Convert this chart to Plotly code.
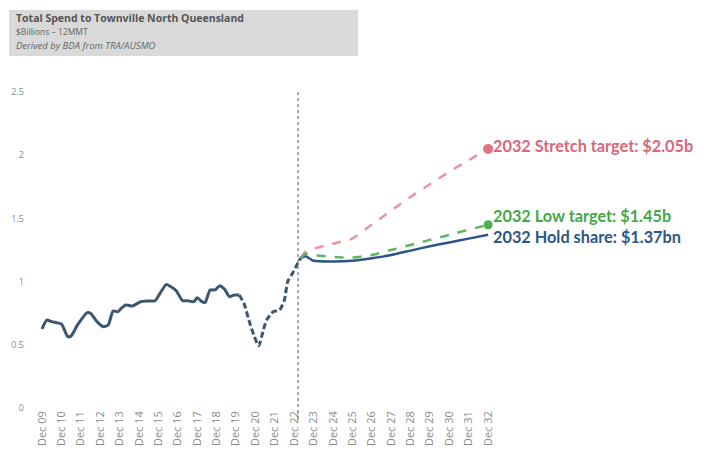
import plotly.graph_objects as go

# Historic 12MMT spend ($b), solid part
hist_dates = ["2009-12-01", "2010-03-01", "2010-06-01", "2010-09-01", "2010-12-01", "2011-04-01",
              "2011-06-01", "2011-10-01", "2012-04-01", "2012-06-01", "2012-10-01", "2013-02-01",
              "2013-05-01", "2013-08-01", "2013-11-01", "2014-01-01", "2014-04-01", "2014-08-01",
              "2015-01-01", "2015-05-01", "2015-10-01", "2016-01-01", "2016-05-01", "2016-07-01",
              "2016-11-01", "2017-03-01", "2017-06-01", "2017-10-01", "2017-12-01", "2018-03-01",
              "2018-05-01", "2018-08-01", "2018-11-01", "2019-02-01", "2019-05-01", "2019-08-01",
              "2019-11-01", "2020-02-01"]
hist_values = [0.625, 0.696, 0.683, 0.675, 0.665, 0.564, 0.570, 0.657, 0.754, 0.749, 0.683, 0.643,
               0.657, 0.767, 0.762, 0.789, 0.815, 0.807, 0.841, 0.847, 0.849, 0.907, 0.978, 0.965,
               0.928, 0.849, 0.849, 0.841, 0.873, 0.841, 0.836, 0.934, 0.934, 0.968, 0.939, 0.881,
               0.894, 0.894]

# COVID period, dashed
covid_dates = ["2020-02-01", "2020-05-01", "2020-08-01", "2020-11-01", "2021-02-01", "2021-05-01",
               "2021-07-01", "2021-11-01", "2022-03-01", "2022-06-01", "2022-08-01", "2022-11-01",
               "2023-02-01", "2023-04-01"]
covid_values = [0.894, 0.828, 0.696, 0.578, 0.493, 0.617, 0.696, 0.762, 0.775, 0.854, 0.999, 1.066,
                1.14, 1.185]

# Projections
proj_dates = ["2023-04-01", "2023-07-01", "2023-12-01", "2024-12-01", "2025-12-01", "2026-12-01",
              "2027-12-01", "2028-12-01", "2029-12-01", "2030-12-01", "2031-12-01", "2032-12-01"]
stretch_values = [1.185, 1.235, 1.26, 1.30, 1.34, 1.45, 1.56, 1.67, 1.77, 1.87, 1.96, 2.05]
low_values = [1.185, 1.22, 1.21, 1.195, 1.19, 1.21, 1.25, 1.29, 1.33, 1.37, 1.41, 1.45]
hold_values = [1.185, 1.20, 1.165, 1.16, 1.165, 1.185, 1.21, 1.245, 1.28, 1.31, 1.34, 1.37]

tick_dates = [f"{y}-12-01" for y in range(2009, 2033)]
tick_labels = [f"Dec {y % 100:02d}" for y in range(2009, 2033)]
y_ticks = [0, 0.5, 1, 1.5, 2, 2.5]
y_labels = ["0", "0.5", "1", "1.5", "2", "2.5"]

divider_date = "2023-02-13"

C_HIST = "#3d5670"
C_RED_LINE = "#e8949f"
C_RED = "#d9667a"
C_GREEN_LINE = "#5cb85c"
C_GREEN = "#43a847"
C_BLUE = "#2c5686"

# page offset (browser body margin) compensation
OFF = 8
ML, MT = 35 - OFF, 92 - OFF
PLOT_W, PLOT_H = 460, 316
MR = 704 - ML - PLOT_W
MB = 451 - MT - PLOT_H

fig = go.Figure()

fig.add_trace(go.Scatter(x=proj_dates, y=stretch_values, mode="lines",
                         line=dict(color=C_RED_LINE, width=2.5, dash="dash", shape="spline", smoothing=0.5),
                         showlegend=False, hoverinfo="skip"))
fig.add_trace(go.Scatter(x=proj_dates, y=hold_values, mode="lines",
                         line=dict(color=C_BLUE, width=2.5, shape="spline", smoothing=0.5),
                         showlegend=False, hoverinfo="skip"))
fig.add_trace(go.Scatter(x=proj_dates, y=low_values, mode="lines",
                         line=dict(color=C_GREEN_LINE, width=2.5, dash="dash", shape="spline", smoothing=0.5),
                         showlegend=False, hoverinfo="skip"))
fig.add_trace(go.Scatter(x=hist_dates, y=hist_values, mode="lines",
                         line=dict(color=C_HIST, width=3, shape="spline", smoothing=0.6),
                         showlegend=False, hoverinfo="skip"))
fig.add_trace(go.Scatter(x=covid_dates, y=covid_values, mode="lines",
                         line=dict(color=C_HIST, width=3, dash="6px,3px", shape="spline", smoothing=0.6),
                         showlegend=False, hoverinfo="skip"))
fig.add_trace(go.Scatter(x=[proj_dates[-1]], y=[stretch_values[-1]], mode="markers",
                         marker=dict(color="#e07386", size=10), showlegend=False, hoverinfo="skip"))
fig.add_trace(go.Scatter(x=[proj_dates[-1]], y=[low_values[-1]], mode="markers",
                         marker=dict(color="#4caf50", size=9), showlegend=False, hoverinfo="skip"))

labels = [
    (stretch_values[-1], "2032 Stretch target: $2.05b", C_RED, 3),
    (low_values[-1], "2032 Low target: $1.45b", C_GREEN, 9),
    (hold_values[-1], "2032 Hold share: $1.37bn", C_BLUE, -2),
]
for yv, txt, col, ys in labels:
    fig.add_annotation(x=proj_dates[-1], y=yv, text=txt, showarrow=False, xanchor="left",
                       yanchor="middle", xshift=3, yshift=ys,
                       font=dict(family="Lato", size=16.3, color=col, weight="bold"))

fig.add_shape(type="line", xref="x", yref="paper", x0=divider_date, x1=divider_date, y0=-0.035, y1=1,
              line=dict(color="#555555", width=1, dash="dot"))

fig.update_layout(
    width=704, height=451,
    margin=dict(l=ML, r=MR, t=MT, b=MB, autoexpand=False),
    paper_bgcolor="white", plot_bgcolor="white",
    xaxis=dict(type="date", range=["2009-07-22", "2033-04-10"], tickmode="array",
               tickvals=tick_dates, ticktext=tick_labels, tickangle=-90, showgrid=False,
               zeroline=False, showline=False, ticks="", automargin=False,
               tickfont=dict(family="Open Sans", size=11, color="#8a8a8a")),
    yaxis=dict(range=[0, 2.5], tickmode="array", tickvals=y_ticks, ticktext=y_labels,
               showgrid=False, zeroline=False, showline=False, ticks="", automargin=False,
               ticklabelstandoff=10,
               tickfont=dict(family="Open Sans", size=9, color="#8a8a8a")),
)

# Header panel (screen-pixel based via paper coords)
def px(x):
    return (x - OFF - ML) / PLOT_W
def py(y):
    return (MT + PLOT_H - (y - OFF)) / PLOT_H

fig.add_shape(type="rect", xref="paper", yref="paper", x0=px(9), x1=px(358), y0=py(56), y1=py(10),
              line=dict(width=0), fillcolor="#d9d9d9")
fig.add_annotation(xref="paper", yref="paper", x=px(14), y=py(18), xanchor="left", yanchor="middle",
                   showarrow=False, text="<b>Total Spend to Townville North Queensland</b>",
                   font=dict(family="Open Sans", size=10.5, color="#555555"))
fig.add_annotation(xref="paper", yref="paper", x=px(14), y=py(31), xanchor="left", yanchor="middle",
                   showarrow=False, text="$Billions – 12MMT",
                   font=dict(family="Open Sans", size=8.5, color="#666666"))
fig.add_annotation(xref="paper", yref="paper", x=px(14), y=py(45), xanchor="left", yanchor="middle",
                   showarrow=False, text="<i>Derived by BDA from TRA/AUSMO</i>",
                   font=dict(family="Open Sans", size=9.5, color="#666666"))

fig.write_html("out.html")
